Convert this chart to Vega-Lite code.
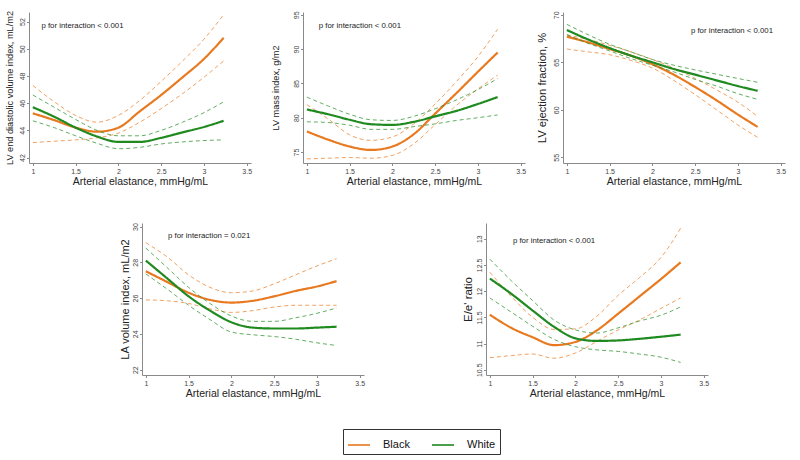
{
  "$schema": "https://vega.github.io/schema/vega-lite/v6.json",
  "padding": {"left": 5, "top": 10, "right": 2, "bottom": 2},
  "background": "white",
  "datasets": {
    "curves": [
      {"p":1,"g":"Black","x":1,"est":45.25,"lo":43.1,"hi":47.3},
      {"p":1,"g":"Black","x":1.25,"est":44.75,"lo":43.2,"hi":46.1},
      {"p":1,"g":"Black","x":1.5,"est":44.2,"lo":43.3,"hi":45.1},
      {"p":1,"g":"Black","x":1.75,"est":43.9,"lo":43.45,"hi":44.6},
      {"p":1,"g":"Black","x":2,"est":44.2,"lo":43.8,"hi":45.1},
      {"p":1,"g":"Black","x":2.25,"est":45.4,"lo":44.6,"hi":46.2},
      {"p":1,"g":"Black","x":2.5,"est":46.6,"lo":45.6,"hi":47.6},
      {"p":1,"g":"Black","x":2.75,"est":47.9,"lo":46.7,"hi":49.1},
      {"p":1,"g":"Black","x":3,"est":49.25,"lo":47.9,"hi":50.7},
      {"p":1,"g":"Black","x":3.23,"est":50.8,"lo":49.1,"hi":52.5},
      {"p":1,"g":"White","x":1,"est":45.7,"lo":44.7,"hi":46.6},
      {"p":1,"g":"White","x":1.25,"est":45.0,"lo":44.2,"hi":45.7},
      {"p":1,"g":"White","x":1.5,"est":44.2,"lo":43.6,"hi":44.8},
      {"p":1,"g":"White","x":1.75,"est":43.55,"lo":43.05,"hi":44.0},
      {"p":1,"g":"White","x":2,"est":43.15,"lo":42.65,"hi":43.6},
      {"p":1,"g":"White","x":2.25,"est":43.15,"lo":42.75,"hi":43.6},
      {"p":1,"g":"White","x":2.5,"est":43.45,"lo":43.0,"hi":44.0},
      {"p":1,"g":"White","x":2.75,"est":43.85,"lo":43.15,"hi":44.6},
      {"p":1,"g":"White","x":3,"est":44.25,"lo":43.25,"hi":45.3},
      {"p":1,"g":"White","x":3.23,"est":44.7,"lo":43.3,"hi":46.1},

      {"p":2,"g":"Black","x":1,"est":78.0,"lo":74.0,"hi":81.9},
      {"p":2,"g":"Black","x":1.25,"est":76.8,"lo":74.1,"hi":79.8},
      {"p":2,"g":"Black","x":1.5,"est":75.8,"lo":74.2,"hi":77.5},
      {"p":2,"g":"Black","x":1.75,"est":75.3,"lo":74.1,"hi":76.7},
      {"p":2,"g":"Black","x":2,"est":75.8,"lo":74.5,"hi":77.2},
      {"p":2,"g":"Black","x":2.25,"est":77.6,"lo":76.2,"hi":79.1},
      {"p":2,"g":"Black","x":2.5,"est":80.6,"lo":79.0,"hi":82.0},
      {"p":2,"g":"Black","x":2.75,"est":83.6,"lo":81.8,"hi":85.3},
      {"p":2,"g":"Black","x":3,"est":86.7,"lo":84.2,"hi":88.9},
      {"p":2,"g":"Black","x":3.23,"est":89.5,"lo":86.2,"hi":92.9},
      {"p":2,"g":"White","x":1,"est":81.2,"lo":79.4,"hi":83.0},
      {"p":2,"g":"White","x":1.25,"est":80.5,"lo":79.3,"hi":81.7},
      {"p":2,"g":"White","x":1.5,"est":79.7,"lo":78.9,"hi":80.5},
      {"p":2,"g":"White","x":1.75,"est":79.05,"lo":78.3,"hi":79.7},
      {"p":2,"g":"White","x":2,"est":78.95,"lo":78.3,"hi":79.6},
      {"p":2,"g":"White","x":2.25,"est":79.4,"lo":78.7,"hi":80.2},
      {"p":2,"g":"White","x":2.5,"est":80.2,"lo":79.1,"hi":81.3},
      {"p":2,"g":"White","x":2.75,"est":81.0,"lo":79.6,"hi":82.6},
      {"p":2,"g":"White","x":3,"est":82.0,"lo":80.0,"hi":84.1},
      {"p":2,"g":"White","x":3.23,"est":83.0,"lo":80.4,"hi":85.7},

      {"p":3,"g":"Black","x":1,"est":67.7,"lo":66.4,"hi":67.9},
      {"p":3,"g":"Black","x":1.25,"est":67.1,"lo":66.1,"hi":67.4},
      {"p":3,"g":"Black","x":1.5,"est":66.4,"lo":65.8,"hi":66.8},
      {"p":3,"g":"Black","x":1.75,"est":65.7,"lo":65.2,"hi":66.1},
      {"p":3,"g":"Black","x":2,"est":64.8,"lo":64.4,"hi":65.3},
      {"p":3,"g":"Black","x":2.25,"est":63.7,"lo":63.1,"hi":64.4},
      {"p":3,"g":"Black","x":2.5,"est":62.4,"lo":61.6,"hi":63.3},
      {"p":3,"g":"Black","x":2.75,"est":61.0,"lo":60.0,"hi":62.1},
      {"p":3,"g":"Black","x":3,"est":59.5,"lo":58.4,"hi":60.8},
      {"p":3,"g":"Black","x":3.23,"est":58.2,"lo":57.1,"hi":59.3},
      {"p":3,"g":"White","x":1,"est":68.4,"lo":67.9,"hi":69.0},
      {"p":3,"g":"White","x":1.25,"est":67.4,"lo":67.0,"hi":67.9},
      {"p":3,"g":"White","x":1.5,"est":66.5,"lo":66.2,"hi":66.9},
      {"p":3,"g":"White","x":1.75,"est":65.7,"lo":65.4,"hi":66.1},
      {"p":3,"g":"White","x":2,"est":65.0,"lo":64.7,"hi":65.3},
      {"p":3,"g":"White","x":2.25,"est":64.3,"lo":64.0,"hi":64.7},
      {"p":3,"g":"White","x":2.5,"est":63.7,"lo":63.2,"hi":64.2},
      {"p":3,"g":"White","x":2.75,"est":63.1,"lo":62.5,"hi":63.75},
      {"p":3,"g":"White","x":3,"est":62.5,"lo":61.7,"hi":63.3},
      {"p":3,"g":"White","x":3.23,"est":62.0,"lo":61.1,"hi":62.9},

      {"p":4,"g":"Black","x":1,"est":27.5,"lo":25.9,"hi":29.1},
      {"p":4,"g":"Black","x":1.25,"est":26.9,"lo":25.85,"hi":28.3},
      {"p":4,"g":"Black","x":1.5,"est":26.3,"lo":25.7,"hi":27.3},
      {"p":4,"g":"Black","x":1.75,"est":25.9,"lo":25.4,"hi":26.6},
      {"p":4,"g":"Black","x":2,"est":25.75,"lo":25.2,"hi":26.3},
      {"p":4,"g":"Black","x":2.25,"est":25.85,"lo":25.3,"hi":26.4},
      {"p":4,"g":"Black","x":2.5,"est":26.1,"lo":25.5,"hi":26.8},
      {"p":4,"g":"Black","x":2.75,"est":26.4,"lo":25.6,"hi":27.3},
      {"p":4,"g":"Black","x":3,"est":26.65,"lo":25.6,"hi":27.8},
      {"p":4,"g":"Black","x":3.23,"est":26.95,"lo":25.6,"hi":28.2},
      {"p":4,"g":"White","x":1,"est":28.1,"lo":27.35,"hi":28.8},
      {"p":4,"g":"White","x":1.25,"est":27.1,"lo":26.5,"hi":27.7},
      {"p":4,"g":"White","x":1.5,"est":26.1,"lo":25.6,"hi":26.6},
      {"p":4,"g":"White","x":1.75,"est":25.3,"lo":24.8,"hi":25.7},
      {"p":4,"g":"White","x":2,"est":24.65,"lo":24.1,"hi":25.0},
      {"p":4,"g":"White","x":2.25,"est":24.35,"lo":23.95,"hi":24.7},
      {"p":4,"g":"White","x":2.5,"est":24.3,"lo":23.85,"hi":24.7},
      {"p":4,"g":"White","x":2.75,"est":24.3,"lo":23.7,"hi":24.9},
      {"p":4,"g":"White","x":3,"est":24.35,"lo":23.5,"hi":25.15},
      {"p":4,"g":"White","x":3.23,"est":24.4,"lo":23.35,"hi":25.45},

      {"p":5,"g":"Black","x":1,"est":11.55,"lo":10.73,"hi":12.36},
      {"p":5,"g":"Black","x":1.25,"est":11.3,"lo":10.77,"hi":11.9},
      {"p":5,"g":"Black","x":1.5,"est":11.12,"lo":10.8,"hi":11.5},
      {"p":5,"g":"Black","x":1.75,"est":10.97,"lo":10.72,"hi":11.27},
      {"p":5,"g":"Black","x":2,"est":11.03,"lo":10.82,"hi":11.28},
      {"p":5,"g":"Black","x":2.25,"est":11.25,"lo":11.04,"hi":11.52},
      {"p":5,"g":"Black","x":2.5,"est":11.57,"lo":11.26,"hi":11.92},
      {"p":5,"g":"Black","x":2.75,"est":11.9,"lo":11.45,"hi":12.26},
      {"p":5,"g":"Black","x":3,"est":12.23,"lo":11.67,"hi":12.64},
      {"p":5,"g":"Black","x":3.23,"est":12.55,"lo":11.87,"hi":13.2},
      {"p":5,"g":"White","x":1,"est":12.24,"lo":11.87,"hi":12.61},
      {"p":5,"g":"White","x":1.25,"est":11.95,"lo":11.6,"hi":12.2},
      {"p":5,"g":"White","x":1.5,"est":11.63,"lo":11.33,"hi":11.82},
      {"p":5,"g":"White","x":1.75,"est":11.32,"lo":11.08,"hi":11.45},
      {"p":5,"g":"White","x":2,"est":11.1,"lo":10.94,"hi":11.26},
      {"p":5,"g":"White","x":2.25,"est":11.05,"lo":10.88,"hi":11.2},
      {"p":5,"g":"White","x":2.5,"est":11.06,"lo":10.85,"hi":11.3},
      {"p":5,"g":"White","x":2.75,"est":11.09,"lo":10.8,"hi":11.43},
      {"p":5,"g":"White","x":3,"est":11.13,"lo":10.74,"hi":11.54},
      {"p":5,"g":"White","x":3.23,"est":11.17,"lo":10.64,"hi":11.7}
    ],
    "notes": [
      {"p":1,"x":1.1,"val":51.7,"t":"p for interaction < 0.001"},
      {"p":2,"x":1.14,"val":93.3,"t":"p for interaction < 0.001"},
      {"p":3,"x":2.45,"val":68.3,"t":"p for interaction < 0.001"},
      {"p":4,"x":1.26,"val":29.5,"t":"p for interaction = 0.021"},
      {"p":5,"x":1.27,"val":12.96,"t":"p for interaction < 0.001"}
    ]
  },
  "spacing": 35,
  "vconcat": [
    {
      "spacing": 10,
      "hconcat": [
        {
          "spacing": 19,
          "hconcat": [
            {
              "width": 222, "height": 151,
              "encoding": {
                "x": {"field": "x", "type": "quantitative", "scale": {"domain": [0.955, 3.55], "nice": false, "zero": false}, "axis": {"values": [1,1.5,2,2.5,3,3.5], "labelOverlap": false}, "title": "Arterial elastance, mmHg/mL"},
                "y": {"field": "val", "type": "quantitative", "scale": {"domain": [41.6, 52.7], "nice": false, "zero": false}, "axis": {"values": [42,44,46,48,50,52], "labelOverlap": false, "titleFontSize": 9.2, "titlePadding": 4.5}, "title": "LV end diastolic volume index, mL/m2"}
              },
              "layer": [
                {
                  "data": {"name": "curves"},
                  "transform": [{"filter": "datum.p == 1"}, {"fold": ["est","lo","hi"], "as": ["kind","val"]}],
                  "mark": {"type": "line", "interpolate": "monotone"},
                  "encoding": {
                    "color": {"field": "g", "type": "nominal", "scale": {"domain": ["Black","White"], "range": ["#E8791F","#1F8A1F"]}, "legend": {"title": null, "encode": {"symbols": {"update": {"stroke": {"signal": "datum.value == 'Black' ? '#F2B33A' : '#5DB24D'"}}}}}},
                    "strokeDash": {"field": "kind", "type": "nominal", "scale": {"type": "ordinal", "domain": ["est","lo","hi"], "range": [[1,0],[4,3],[4,3]]}, "legend": null},
                    "strokeWidth": {"field": "kind", "type": "nominal", "scale": {"type": "ordinal", "domain": ["est","lo","hi"], "range": [2.2,1,1]}, "legend": null},
                    "opacity": {"field": "kind", "type": "nominal", "scale": {"type": "ordinal", "domain": ["est","lo","hi"], "range": [1,0.7,0.7]}, "legend": null}
                  }
                },
                {
                  "data": {"name": "notes"},
                  "transform": [{"filter": "datum.p == 1"}],
                  "mark": {"type": "text", "align": "left", "baseline": "middle", "fontSize": 7.8, "color": "#222"},
                  "encoding": {"text": {"field": "t"}}
                }
              ]
            },
            {
              "width": 222, "height": 151,
              "encoding": {
                "x": {"field": "x", "type": "quantitative", "scale": {"domain": [0.955, 3.55], "nice": false, "zero": false}, "axis": {"values": [1,1.5,2,2.5,3,3.5], "labelOverlap": false}, "title": "Arterial elastance, mmHg/mL"},
                "y": {"field": "val", "type": "quantitative", "scale": {"domain": [73.4, 95.4], "nice": false, "zero": false}, "axis": {"values": [75,80,85,90,95], "labelOverlap": false, "titleFontSize": 9.2, "titlePadding": 12.5}, "title": "LV mass index, g/m2"}
              },
              "layer": [
                {
                  "data": {"name": "curves"},
                  "transform": [{"filter": "datum.p == 2"}, {"fold": ["est","lo","hi"], "as": ["kind","val"]}],
                  "mark": {"type": "line", "interpolate": "monotone"},
                  "encoding": {
                    "color": {"field": "g", "type": "nominal", "scale": {"domain": ["Black","White"], "range": ["#E8791F","#1F8A1F"]}},
                    "strokeDash": {"field": "kind", "type": "nominal", "scale": {"type": "ordinal", "domain": ["est","lo","hi"], "range": [[1,0],[4,3],[4,3]]}, "legend": null},
                    "strokeWidth": {"field": "kind", "type": "nominal", "scale": {"type": "ordinal", "domain": ["est","lo","hi"], "range": [2.2,1,1]}, "legend": null},
                    "opacity": {"field": "kind", "type": "nominal", "scale": {"type": "ordinal", "domain": ["est","lo","hi"], "range": [1,0.7,0.7]}, "legend": null}
                  }
                },
                {
                  "data": {"name": "notes"},
                  "transform": [{"filter": "datum.p == 2"}],
                  "mark": {"type": "text", "align": "left", "baseline": "middle", "fontSize": 7.8, "color": "#222"},
                  "encoding": {"text": {"field": "t"}}
                }
              ]
            }
          ]
        },
        {
          "width": 222, "height": 151,
          "encoding": {
            "x": {"field": "x", "type": "quantitative", "scale": {"domain": [0.955, 3.55], "nice": false, "zero": false}, "axis": {"values": [1,1.5,2,2.5,3,3.5], "labelOverlap": false}, "title": "Arterial elastance, mmHg/mL"},
            "y": {"field": "val", "type": "quantitative", "scale": {"domain": [54.4, 70.3], "nice": false, "zero": false}, "axis": {"values": [55,60,65,70], "labelOverlap": false, "titleFontSize": 11.2, "titlePadding": 5}, "title": "LV ejection fraction, %"}
          },
          "layer": [
            {
              "data": {"name": "curves"},
              "transform": [{"filter": "datum.p == 3"}, {"fold": ["est","lo","hi"], "as": ["kind","val"]}],
              "mark": {"type": "line", "interpolate": "monotone"},
              "encoding": {
                "color": {"field": "g", "type": "nominal", "scale": {"domain": ["Black","White"], "range": ["#E8791F","#1F8A1F"]}},
                "strokeDash": {"field": "kind", "type": "nominal", "scale": {"type": "ordinal", "domain": ["est","lo","hi"], "range": [[1,0],[4,3],[4,3]]}, "legend": null},
                "strokeWidth": {"field": "kind", "type": "nominal", "scale": {"type": "ordinal", "domain": ["est","lo","hi"], "range": [2.2,1,1]}, "legend": null},
                "opacity": {"field": "kind", "type": "nominal", "scale": {"type": "ordinal", "domain": ["est","lo","hi"], "range": [1,0.7,0.7]}, "legend": null}
              }
            },
            {
              "data": {"name": "notes"},
              "transform": [{"filter": "datum.p == 3"}],
              "mark": {"type": "text", "align": "left", "baseline": "middle", "fontSize": 7.8, "color": "#222"},
              "encoding": {"text": {"field": "t"}}
            }
          ]
        }
      ]
    },
    {
      "spacing": 0,
      "hconcat": [
        {
          "width": 90, "height": 10,
          "data": {"values": []},
          "mark": "point"
        },
        {
          "spacing": 97,
          "hconcat": [
            {
              "width": 222, "height": 152,
              "encoding": {
                "x": {"field": "x", "type": "quantitative", "scale": {"domain": [0.955, 3.55], "nice": false, "zero": false}, "axis": {"values": [1,1.5,2,2.5,3,3.5], "labelOverlap": false}, "title": "Arterial elastance, mmHg/mL"},
                "y": {"field": "val", "type": "quantitative", "scale": {"domain": [21.7, 30.2], "nice": false, "zero": false}, "axis": {"values": [22,24,26,28,30], "labelOverlap": false, "titleFontSize": 11, "titlePadding": 1}, "title": "LA volume index, mL/m2"}
              },
              "layer": [
                {
                  "data": {"name": "curves"},
                  "transform": [{"filter": "datum.p == 4"}, {"fold": ["est","lo","hi"], "as": ["kind","val"]}],
                  "mark": {"type": "line", "interpolate": "monotone"},
                  "encoding": {
                    "color": {"field": "g", "type": "nominal", "scale": {"domain": ["Black","White"], "range": ["#E8791F","#1F8A1F"]}},
                    "strokeDash": {"field": "kind", "type": "nominal", "scale": {"type": "ordinal", "domain": ["est","lo","hi"], "range": [[1,0],[4,3],[4,3]]}, "legend": null},
                    "strokeWidth": {"field": "kind", "type": "nominal", "scale": {"type": "ordinal", "domain": ["est","lo","hi"], "range": [2.2,1,1]}, "legend": null},
                    "opacity": {"field": "kind", "type": "nominal", "scale": {"type": "ordinal", "domain": ["est","lo","hi"], "range": [1,0.7,0.7]}, "legend": null}
                  }
                },
                {
                  "data": {"name": "notes"},
                  "transform": [{"filter": "datum.p == 4"}],
                  "mark": {"type": "text", "align": "left", "baseline": "middle", "fontSize": 7.8, "color": "#222"},
                  "encoding": {"text": {"field": "t"}}
                }
              ]
            },
            {
              "width": 222, "height": 152,
              "encoding": {
                "x": {"field": "x", "type": "quantitative", "scale": {"domain": [0.955, 3.55], "nice": false, "zero": false}, "axis": {"values": [1,1.5,2,2.5,3,3.5], "labelOverlap": false}, "title": "Arterial elastance, mmHg/mL"},
                "y": {"field": "val", "type": "quantitative", "scale": {"domain": [10.4, 13.3], "nice": false, "zero": false}, "axis": {"values": [10.5,11,11.5,12,12.5,13], "labelOverlap": false, "titleFontSize": 11.5, "titlePadding": 2.5}, "title": "E/e' ratio"}
              },
              "layer": [
                {
                  "data": {"name": "curves"},
                  "transform": [{"filter": "datum.p == 5"}, {"fold": ["est","lo","hi"], "as": ["kind","val"]}],
                  "mark": {"type": "line", "interpolate": "monotone"},
                  "encoding": {
                    "color": {"field": "g", "type": "nominal", "scale": {"domain": ["Black","White"], "range": ["#E8791F","#1F8A1F"]}},
                    "strokeDash": {"field": "kind", "type": "nominal", "scale": {"type": "ordinal", "domain": ["est","lo","hi"], "range": [[1,0],[4,3],[4,3]]}, "legend": null},
                    "strokeWidth": {"field": "kind", "type": "nominal", "scale": {"type": "ordinal", "domain": ["est","lo","hi"], "range": [2.2,1,1]}, "legend": null},
                    "opacity": {"field": "kind", "type": "nominal", "scale": {"type": "ordinal", "domain": ["est","lo","hi"], "range": [1,0.7,0.7]}, "legend": null}
                  }
                },
                {
                  "data": {"name": "notes"},
                  "transform": [{"filter": "datum.p == 5"}],
                  "mark": {"type": "text", "align": "left", "baseline": "middle", "fontSize": 7.8, "color": "#222"},
                  "encoding": {"text": {"field": "t"}}
                }
              ]
            }
          ]
        }
      ]
    }
  ],
  "resolve": {"scale": {"strokeDash": "shared", "strokeWidth": "shared", "opacity": "shared"}},
  "config": {
    "font": "Liberation Sans",
    "view": {"stroke": null},
    "axis": {"grid": false, "domainColor": "#8a8a8a", "tickColor": "#8a8a8a", "tickSize": 2.5, "labelFontSize": 7, "labelColor": "#444", "titleColor": "#222", "titleFontWeight": "normal", "format": "~g", "labelOverlap": false, "labelFlush": false},
    "axisX": {"titleFontSize": 10.5, "titlePadding": 2, "labelPadding": 2},
    "axisY": {"labelAngle": -90, "labelAlign": "center", "labelBaseline": "bottom", "labelPadding": 1},
    "legend": {"orient": "none", "legendX": 314, "legendY": 417, "direction": "horizontal", "symbolType": "stroke", "symbolSize": 484, "symbolStrokeWidth": 1.6, "labelFontSize": 11, "labelColor": "#111", "strokeColor": "#333", "padding": 4, "columnPadding": 18, "labelOffset": 12}
  }
}
